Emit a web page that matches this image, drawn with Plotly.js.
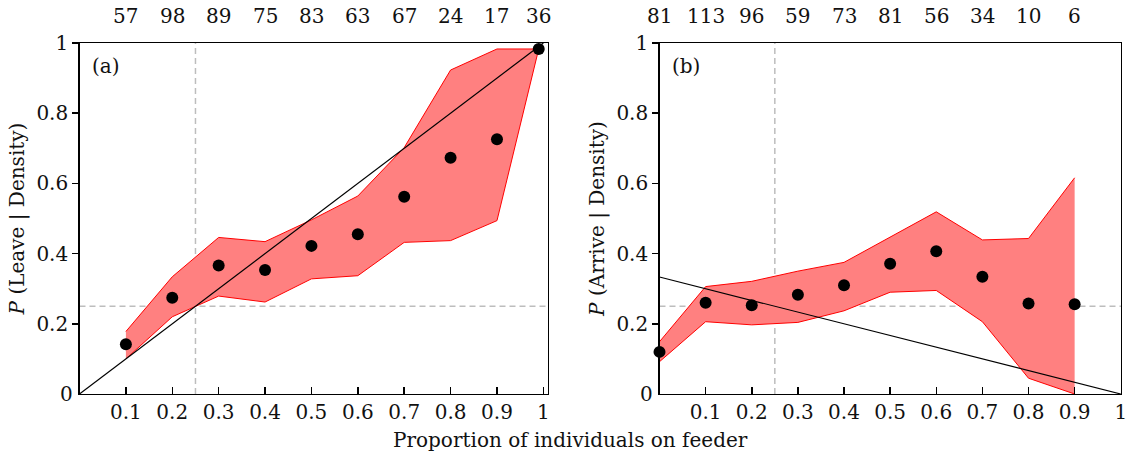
<!DOCTYPE html>
<html>
<head>
<meta charset="utf-8">
<script src="https://cdn.plot.ly/plotly-3.0.1.min.js"></script>
<style>html,body{margin:0;padding:0;background:#fff;}#chart{width:1126px;height:460px;}</style>
</head>
<body>
<div id="chart"></div>
<script>
// Panel (a): P(Leave | Density)
const xLeave = [0.1, 0.2, 0.3, 0.4, 0.5, 0.6, 0.7, 0.8, 0.9, 0.99];
const leaveP  = [0.142, 0.274, 0.366, 0.353, 0.422, 0.455, 0.562, 0.673, 0.726, 0.983];
const leaveLo = [0.100, 0.220, 0.279, 0.262, 0.328, 0.337, 0.432, 0.437, 0.494, 0.983];
const leaveHi = [0.178, 0.334, 0.446, 0.434, 0.496, 0.564, 0.702, 0.923, 0.983, 0.983];
const leaveN  = [57, 98, 89, 75, 83, 63, 67, 24, 17, 36];

// Panel (b): P(Arrive | Density)
const xArrive = [0.0, 0.1, 0.2, 0.3, 0.4, 0.5, 0.6, 0.7, 0.8, 0.9];
const arriveP  = [0.120, 0.260, 0.253, 0.283, 0.310, 0.371, 0.407, 0.334, 0.258, 0.256];
const arriveLo = [0.092, 0.206, 0.197, 0.204, 0.237, 0.290, 0.295, 0.206, 0.045, 0.000];
const arriveHi = [0.149, 0.306, 0.321, 0.350, 0.375, 0.448, 0.519, 0.439, 0.443, 0.616];
const arriveN  = [81, 113, 96, 59, 73, 81, 56, 34, 10, 6];

// Null-model reference lines
const nullX = [0, 1];
const leaveNull = [0, 1];
const arriveNull = [1/3, 0];
const refLevel = 0.25;

const xTicks = [0.1, 0.2, 0.3, 0.4, 0.5, 0.6, 0.7, 0.8, 0.9, 1];
const xTickText = ['0.1','0.2','0.3','0.4','0.5','0.6','0.7','0.8','0.9','1'];
const yTicks = [0.2, 0.4, 0.6, 0.8, 1];
const yTickText = ['0.2','0.4','0.6','0.8','1'];

const FONT = 'DejaVu Serif, Liberation Serif, serif';
const FS = 20;
const BAND = 'rgb(255,128,128)';

function panel(xs, lo, hi, p, nx, ny, xa, ya) {
  return [
    {x: xs, y: lo, xaxis: xa, yaxis: ya, mode: 'lines', line: {color: 'red', width: 1}, hoverinfo: 'skip'},
    {x: xs, y: hi, xaxis: xa, yaxis: ya, mode: 'lines', fill: 'tonexty', fillcolor: BAND, line: {color: 'red', width: 1}, hoverinfo: 'skip'},
    {x: nx, y: ny, xaxis: xa, yaxis: ya, mode: 'lines', line: {color: 'black', width: 1.2}},
    {x: xs, y: p, xaxis: xa, yaxis: ya, mode: 'markers', marker: {color: 'black', size: 12}, cliponaxis: false}
  ];
}

const data = [].concat(
  panel(xLeave, leaveLo, leaveHi, leaveP, nullX, leaveNull, 'x', 'y'),
  panel(xArrive, arriveLo, arriveHi, arriveP, nullX, arriveNull, 'x2', 'y2')
);

function xaxis(domain, range, anchor) {
  return {domain: domain, range: range, anchor: anchor, tickvals: xTicks, ticktext: xTickText,
    ticks: 'inside', ticklen: 7, tickwidth: 1.5, tickcolor: 'black', ticklabeloverflow: 'allow',
    showline: true, linecolor: 'black', linewidth: 1.3, mirror: true,
    showgrid: false, zeroline: false, tickfont: {family: FONT, size: FS, color: '#111'}, fixedrange: true};
}
function yaxis(anchor, title) {
  return {domain: [0, 1], range: [0, 1], anchor: anchor, tickvals: yTicks, ticktext: yTickText,
    ticks: 'outside', ticklen: 6, tickwidth: 1.5, tickcolor: 'black',
    showline: true, linecolor: 'black', linewidth: 1.3, mirror: true,
    showgrid: false, zeroline: false, tickfont: {family: FONT, size: FS, color: '#111'},
    title: {text: title, font: {family: FONT, size: FS, color: '#111'}, standoff: 6}, fixedrange: true};
}

const shapes = [];
[['x','y'],['x2','y2']].forEach(([xa, ya]) => {
  shapes.push({type: 'line', xref: xa, yref: ya + ' domain', x0: refLevel, x1: refLevel, y0: 0, y1: 1,
    line: {color: '#bdbdbd', width: 1.5, dash: '6px,4px'}, layer: 'below'});
  shapes.push({type: 'line', xref: xa + ' domain', yref: ya, x0: 0, x1: 1, y0: refLevel, y1: refLevel,
    line: {color: '#bdbdbd', width: 1.5, dash: '6px,4px'}, layer: 'below'});
});

const annotations = [];
leaveN.forEach((n, i) => annotations.push({x: xLeave[i], xref: 'x', y: 1, yref: 'y domain', yanchor: 'middle', yshift: 27,
  text: String(n), showarrow: false, font: {family: FONT, size: FS, color: '#111'}}));
arriveN.forEach((n, i) => annotations.push({x: xArrive[i], xref: 'x2', y: 1, yref: 'y2 domain', yanchor: 'middle', yshift: 27,
  text: String(n), showarrow: false, font: {family: FONT, size: FS, color: '#111'}}));
[['x','y','(a)'],['x2','y2','(b)']].forEach(([xa, ya, t]) => {
  annotations.push({x: 0, xref: xa + ' domain', y: 1, yref: ya + ' domain', xanchor: 'left', yanchor: 'top',
    xshift: 10, yshift: -9, text: t, showarrow: false, font: {family: FONT, size: FS, color: '#111'}});
  annotations.push({x: 0, xref: xa + ' domain', y: 0, yref: ya, xanchor: 'right', yanchor: 'middle',
    xshift: -5, text: '0', showarrow: false, font: {family: FONT, size: FS, color: '#111'}});
});
annotations.push({x: 0.507, xref: 'paper', y: 0, yref: 'paper', yanchor: 'middle', yshift: -46,
  text: 'Proportion of individuals on feeder', showarrow: false, font: {family: FONT, size: FS, color: '#111'}});

const layout = {
  width: 1126, height: 460,
  margin: {l: 0, r: 0, t: 43, b: 66},
  paper_bgcolor: '#fff', plot_bgcolor: '#fff',
  showlegend: false,
  xaxis: xaxis([79.5/1126, 548/1126], [0, 1.01], 'y'),
  yaxis: yaxis('x', '<i>P</i> (Leave | Density)'),
  xaxis2: xaxis([659.5/1126, 1121/1126], [0, 1.0005], 'y2'),
  yaxis2: yaxis('x2', '<i>P</i> (Arrive | Density)'),
  shapes: shapes,
  annotations: annotations
};

Plotly.newPlot('chart', data, layout, {displayModeBar: false, staticPlot: true});
</script>
</body>
</html>
